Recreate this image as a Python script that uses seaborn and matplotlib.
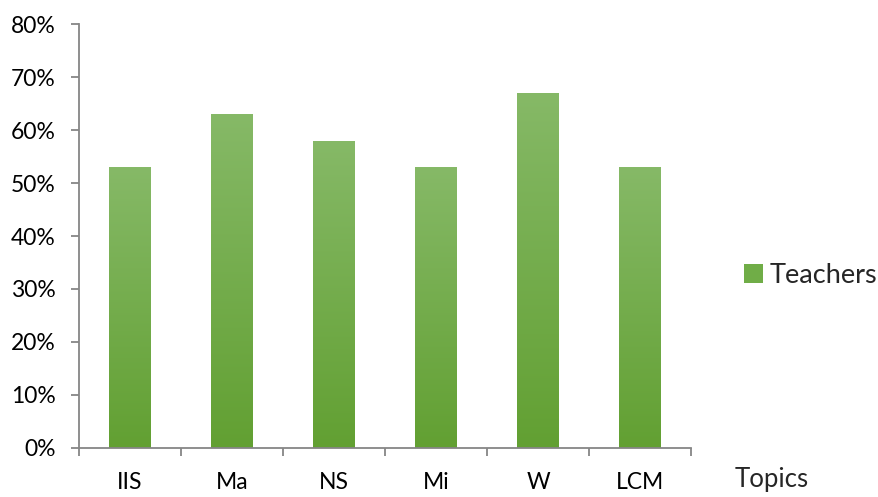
import numpy as np
import pandas as pd
import matplotlib
matplotlib.use("Agg")
import matplotlib.pyplot as plt
from matplotlib.colors import LinearSegmentedColormap
from matplotlib.patches import Rectangle
from matplotlib.ticker import PercentFormatter, FixedLocator
import seaborn as sns

topics = ["IIS", "Ma", "NS", "Mi", "W", "LCM"]
teachers = [53, 63, 58, 53, 67, 53]
series_name = "Teachers"
axis_title = "Topics"

sns.set_style("white")
plt.rcParams["font.family"] = ["Lato", "DejaVu Sans"]

df = pd.DataFrame({"topic": topics, "value": teachers})

fig = plt.figure(figsize=(8.79, 4.97), dpi=100)
ax = fig.add_axes([0.0899, 0.0986, 0.6963, 0.8531])

sns.barplot(data=df, x="topic", y="value", color="#70ad47", width=0.41,
            saturation=1, ax=ax)

# vertical green gradient inside every bar
grad = LinearSegmentedColormap.from_list("g", ["#62a032", "#86b967"])
ramp = np.linspace(0, 1, 256).reshape(-1, 1)
for bar in ax.patches:
    x0, y0 = bar.get_x(), bar.get_y()
    w, h = bar.get_width(), bar.get_height()
    im = ax.imshow(ramp, cmap=grad, origin="lower", aspect="auto",
                   extent=[x0, x0 + w, y0, y0 + h], zorder=bar.get_zorder() + 0.1)
    im.set_clip_path(bar)

ax.set_xlim(-0.5, len(topics) - 0.5)
ax.set_ylim(0, 80)
ax.yaxis.set_major_locator(FixedLocator(np.arange(0, 81, 10)))
ax.yaxis.set_major_formatter(PercentFormatter(decimals=0))

axis_color = "#868686"
for side in ["top", "right"]:
    ax.spines[side].set_visible(False)
for side in ["left", "bottom"]:
    ax.spines[side].set_color(axis_color)
    ax.spines[side].set_linewidth(1.3)

ax.tick_params(axis="y", which="major", left=True, length=6, width=1.3,
               color=axis_color, labelsize=16.5, pad=11, labelcolor="black")
# category labels centred, tick marks on category boundaries
ax.set_xticks(range(len(topics)))
ax.set_xticklabels(topics)
ax.tick_params(axis="x", which="major", bottom=False, labelsize=16.5, pad=14,
               labelcolor="black")
ax.set_xticks(np.arange(-0.5, len(topics), 1), minor=True)
ax.tick_params(axis="x", which="minor", bottom=True, length=6, width=1.3,
               color=axis_color)
ax.set_xlabel("")
ax.set_ylabel("")

fig.text(0.836, 0.021, axis_title, fontsize=18.5, ha="left", va="baseline")

handle = Rectangle((0, 0), 1, 1, facecolor="#70ad47", edgecolor="none")
fig.legend([handle], [series_name], loc="center left",
           bbox_to_anchor=(0.846, 0.445), frameon=False, fontsize=19.5,
           handlelength=0.7, handleheight=0.7, handletextpad=0.25,
           borderaxespad=0, borderpad=0)

fig.savefig("out.png", dpi=100)
